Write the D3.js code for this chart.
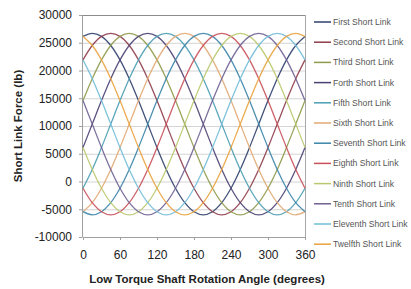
<!DOCTYPE html>
<html>
<head>
<meta charset="utf-8">
<script src="https://cdn.jsdelivr.net/npm/d3@7"></script>
<style>
  body { margin: 0; background: #fff; }
  svg { display: block; font-family: "Liberation Sans", Arial, sans-serif; }
  .axis path, .axis line { stroke: #a0a0a0; }
  .axis text { fill: #222; font-size: 12px; }
  .grid line { stroke: #d4d4d4; }
  .grid path { stroke: none; }
  .axis-label { font-size: 11.5px; font-weight: bold; fill: #222; }
  .legend text { font-size: 8.6px; fill: #555; }
</style>
</head>
<body>
<div id="chart-area"></div>
<script>
// angles every 15 degrees
var angles = [0, 15, 30, 45, 60, 75, 90, 105, 120, 135, 150, 165, 180,
  195, 210, 225, 240, 255, 270, 285, 300, 315, 330, 345, 360];

var seriesNames = ["First Short Link", "Second Short Link", "Third Short Link", "Forth Short Link",
  "Fifth Short Link", "Sixth Short Link", "Seventh Short Link", "Eighth Short Link",
  "Ninth Short Link", "Tenth Short Link", "Eleventh Short Link", "Twelfth Short Link"];

var seriesColors = ["#2d3f6c", "#8e3b4a", "#8f9a4a", "#4b4072", "#4a9db2", "#e2a872",
  "#3b84a8", "#c8505a", "#b9c96e", "#6f6192", "#72bdd8", "#e9a23e"];

var first    = [26140, 26700, 26140, 24510, 21910, 18530, 14580, 10350, 6120, 2170, -1210, -3810, -5440, -6000, -5440, -3810, -1210, 2170, 6120, 10350, 14580, 18530, 21910, 24510, 26140];
var second   = [21910, 24510, 26140, 26700, 26140, 24510, 21910, 18530, 14580, 10350, 6120, 2170, -1210, -3810, -5440, -6000, -5440, -3810, -1210, 2170, 6120, 10350, 14580, 18530, 21910];
var third    = [14580, 18530, 21910, 24510, 26140, 26700, 26140, 24510, 21910, 18530, 14580, 10350, 6120, 2170, -1210, -3810, -5440, -6000, -5440, -3810, -1210, 2170, 6120, 10350, 14580];
var fourth   = [6120, 10350, 14580, 18530, 21910, 24510, 26140, 26700, 26140, 24510, 21910, 18530, 14580, 10350, 6120, 2170, -1210, -3810, -5440, -6000, -5440, -3810, -1210, 2170, 6120];
var fifth    = [-1210, 2170, 6120, 10350, 14580, 18530, 21910, 24510, 26140, 26700, 26140, 24510, 21910, 18530, 14580, 10350, 6120, 2170, -1210, -3810, -5440, -6000, -5440, -3810, -1210];
var sixth    = [-5440, -3810, -1210, 2170, 6120, 10350, 14580, 18530, 21910, 24510, 26140, 26700, 26140, 24510, 21910, 18530, 14580, 10350, 6120, 2170, -1210, -3810, -5440, -6000, -5440];
var seventh  = [-5440, -6000, -5440, -3810, -1210, 2170, 6120, 10350, 14580, 18530, 21910, 24510, 26140, 26700, 26140, 24510, 21910, 18530, 14580, 10350, 6120, 2170, -1210, -3810, -5440];
var eighth   = [-1210, -3810, -5440, -6000, -5440, -3810, -1210, 2170, 6120, 10350, 14580, 18530, 21910, 24510, 26140, 26700, 26140, 24510, 21910, 18530, 14580, 10350, 6120, 2170, -1210];
var ninth    = [6120, 2170, -1210, -3810, -5440, -6000, -5440, -3810, -1210, 2170, 6120, 10350, 14580, 18530, 21910, 24510, 26140, 26700, 26140, 24510, 21910, 18530, 14580, 10350, 6120];
var tenth    = [14580, 10350, 6120, 2170, -1210, -3810, -5440, -6000, -5440, -3810, -1210, 2170, 6120, 10350, 14580, 18530, 21910, 24510, 26140, 26700, 26140, 24510, 21910, 18530, 14580];
var eleventh = [21910, 18530, 14580, 10350, 6120, 2170, -1210, -3810, -5440, -6000, -5440, -3810, -1210, 2170, 6120, 10350, 14580, 18530, 21910, 24510, 26140, 26700, 26140, 24510, 21910];
var twelfth  = [26140, 24510, 21910, 18530, 14580, 10350, 6120, 2170, -1210, -3810, -5440, -6000, -5440, -3810, -1210, 2170, 6120, 10350, 14580, 18530, 21910, 24510, 26140, 26700, 26140];

var seriesValues = [first, second, third, fourth, fifth, sixth, seventh, eighth, ninth, tenth, eleventh, twelfth];

var xTicks = [0, 60, 120, 180, 240, 300, 360];
var yTicks = [-10000, -5000, 0, 5000, 10000, 15000, 20000, 25000, 30000];

var margin = { top: 15, right: 106, bottom: 52, left: 82 };
var width = 411 - margin.left - margin.right;
var height = 289 - margin.top - margin.bottom;

var root = d3.select("#chart-area")
  .append("svg")
  .attr("width", 411)
  .attr("height", 289);

var svg = root.append("g")
  .attr("transform", "translate(" + margin.left + ", " + margin.top + ")");

var xScale = d3.scaleLinear()
  .domain([0, 360])
  .range([1, width]);

var yScale = d3.scaleLinear()
  .domain([-10000, 30000])
  .range([height, 0]);

// gridlines
svg.append("g")
  .attr("class", "grid")
  .call(d3.axisLeft(yScale).tickValues(yTicks.slice(1, -1)).tickSize(-width).tickFormat(""));

// plot border (top and right)
svg.append("line")
  .attr("x1", 0).attr("x2", width)
  .attr("y1", 0.5).attr("y2", 0.5)
  .attr("stroke", "#8c8c8c");
svg.append("line")
  .attr("x1", width + 0.5).attr("x2", width + 0.5)
  .attr("y1", 0).attr("y2", height)
  .attr("stroke", "#a8a8a8");

var xAxis = d3.axisBottom(xScale)
  .tickValues(xTicks)
  .tickSize(3)
  .tickSizeOuter(0)
  .tickPadding(10);
svg.append("g")
  .attr("class", "x axis")
  .attr("transform", "translate(0," + height + ")")
  .call(xAxis);

var yAxis = d3.axisLeft(yScale)
  .tickValues(yTicks)
  .tickSize(3)
  .tickSizeOuter(0)
  .tickPadding(7)
  .tickFormat(d3.format("d"));
svg.append("g")
  .attr("class", "y axis")
  .call(yAxis);

svg.selectAll(".axis text").text(function () { return this.textContent.replace("−", "-"); });

var line = d3.line()
  .x(function (d, i) { return xScale(angles[i]); })
  .y(function (d) { return yScale(d); })
  .curve(d3.curveCatmullRom.alpha(0.5));

svg.selectAll(".series")
  .data(seriesValues)
  .enter().append("path")
  .attr("class", "series")
  .attr("d", line)
  .attr("fill", "none")
  .attr("stroke", function (d, i) { return seriesColors[i]; })
  .attr("stroke-width", 1.3)
  .attr("stroke-opacity", 0.9);

// axis titles
svg.append("text")
  .attr("class", "axis-label")
  .attr("x", 125)
  .attr("y", height + 46)
  .attr("text-anchor", "middle")
  .text("Low Torque Shaft Rotation Angle (degrees)");

svg.append("text")
  .attr("class", "axis-label")
  .attr("x", -height / 2)
  .attr("y", -60)
  .attr("transform", "rotate(-90)")
  .attr("text-anchor", "middle")
  .text("Short Link Force (lb)");

// legend
var legend = root.append("g")
  .attr("class", "legend")
  .attr("transform", "translate(314, 22)");

var rows = legend.selectAll(".row")
  .data(seriesNames)
  .enter().append("g")
  .attr("class", "row")
  .attr("transform", function (d, i) { return "translate(0," + (i * 20.2) + ")"; });

rows.append("line")
  .attr("x1", 0).attr("x2", 17)
  .attr("y1", 0).attr("y2", 0)
  .attr("stroke", function (d, i) { return seriesColors[i]; })
  .attr("stroke-width", 1.5);

rows.append("text")
  .attr("x", 19)
  .attr("y", 3)
  .text(function (d) { return d; });
</script>
</body>
</html>
